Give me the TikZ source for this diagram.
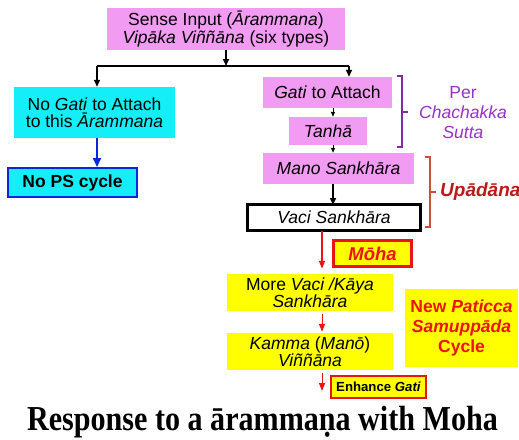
\documentclass[tikz,border=0pt]{standalone}
\usepackage{fontspec}
\setmainfont{Liberation Sans}
\newfontfamily\titlefont{Liberation Serif}
\usetikzlibrary{arrows.meta}
\definecolor{pinkb}{RGB}{242,155,242}
\definecolor{cyanb}{RGB}{20,238,248}
\definecolor{yellowb}{RGB}{255,255,0}
\definecolor{purp}{RGB}{150,50,200}
\definecolor{purpbr}{RGB}{130,40,170}
\definecolor{darkred}{RGB}{190,25,25}
\definecolor{redbr}{RGB}{200,80,60}
\definecolor{redar}{RGB}{235,20,20}
\definecolor{bluear}{RGB}{0,40,220}
\tikzset{
  box/.style={inner sep=0pt, align=center, font=\fontsize{17.5}{17.5}\selectfont},
  pinkbox/.style={box, fill=pinkb},
  cyanbox/.style={box, fill=cyanb},
  yelbox/.style={box, fill=yellowb},
  blk/.style={line width=1.5pt, -{Triangle[width=6pt,length=7pt]}},
  blks/.style={line width=1pt, -{Triangle[width=4pt,length=5pt]}},
  redarrow/.style={redar, line width=1.5pt, -{Triangle[width=6pt,length=8pt]}},
  bluearrow/.style={bluear, line width=2pt, -{Triangle[width=8pt,length=9pt]}},
}
\begin{document}
\begin{tikzpicture}[x=1pt,y=-1pt]
\useasboundingbox (0,0) rectangle (519,439);
% nodes
\node[pinkbox, minimum width=238pt, minimum height=42pt] (top) at (226,29)
  {Sense Input (\textit{Ārammana})\\\textit{Vipāka Viññāna} (six types)};
\node[cyanbox, minimum width=161pt, minimum height=51pt] (nogati) at (94.5,112.5)
  {No \textit{Gati} to Attach\\to this \textit{Ārammana}};
\node[cyanbox, draw=bluear, line width=2pt, minimum width=129pt, minimum height=29pt] (nops) at (72.5,182.5)
  {\textbf{No PS cycle}};
\node[pinkbox, minimum width=129pt, minimum height=31pt] (gati) at (327.5,92.5)
  {\textit{Gati} to Attach};
\node[pinkbox, minimum width=78pt, minimum height=28pt] (tanha) at (328,131)
  {\textit{Tanhā}};
\node[pinkbox, minimum width=151pt, minimum height=31pt] (mano) at (338.5,168.5)
  {\textit{Mano Sankhāra}};
\node[box, fill=white, draw=black, line width=3pt, minimum width=173pt, minimum height=26pt] (vaci) at (334,217.5)
  {\textit{Vaci Sankhāra}};
\node[yelbox, draw=redar, line width=3pt, minimum width=78pt, minimum height=26pt, text=redar, font=\fontsize{18.5}{19}\selectfont] (moha) at (372.5,253.5)
  {\textbf{\textit{Mōha}}};
\node[yelbox, minimum width=166pt, minimum height=37pt] (more) at (310,292.5)
  {More \textit{Vaci /Kāya}\\\textit{Sankhāra}};
\node[yelbox, minimum width=166pt, minimum height=37pt] (kamma) at (310,351.5)
  {\textit{Kamma} (\textit{Manō})\\\textit{Viññāna}};
\node[yelbox, draw=redar, line width=2pt, minimum width=95pt, minimum height=22pt, font=\fontsize{13.2}{14}\selectfont\bfseries] (enh) at (378.5,387)
  {Enhance \textit{Gati}};
\node[yelbox, minimum width=113pt, minimum height=78pt, text=redar, font=\fontsize{17.5}{20}\selectfont\bfseries] (newps) at (461.5,328)
  {New \textit{Paticca}\\\textit{Samuppāda}\\Cycle};
\node[text=purp, align=center, font=\fontsize{17.5}{20}\selectfont] (per) at (463,113)
  {Per\\\textit{Chachakka}\\\textit{Sutta}};
\node[text=darkred, anchor=west, inner sep=0pt, font=\fontsize{19}{20}\selectfont\bfseries\itshape] (upa) at (440,192) {Upādāna};
\node[inner sep=0pt, font=\titlefont\fontsize{35}{36}\selectfont\bfseries] (title) at (262.5,422)
  {\scalebox{0.86}[1]{Response to a ārammaṇa with Moha}};
% connectors
\coordinate (jl) at (97,66);
\coordinate (jr) at (349,66);
\coordinate (cx) at (333,0);
\coordinate (rx) at (322,0);
\coordinate (bx) at (97,0);
\draw[blk] (top.south) -- (top.south |- jl);
\draw[line width=1.5pt] (jl) -- (jr);
\draw[blk] (jl) -- (jl |- nogati.north);
\draw[blk] (jr) -- (jr |- gati.north);
\draw[bluearrow] (bx |- nogati.south) -- (bx |- nops.north);
\draw[blks] (cx |- gati.south) -- (cx |- tanha.north);
\draw[blks] (cx |- tanha.south) -- (cx |- mano.north);
\draw[blk] (cx |- mano.south) -- ([yshift=-2pt]cx |- vaci.north);
\draw[redarrow, shorten >=5pt] ([yshift=1.5pt]rx |- vaci.south) -- (rx |- more.north);
\draw[redarrow, line width=1pt, shorten <=3pt, shorten >=1pt] (rx |- more.south) -- (rx |- kamma.north);
\coordinate (endg) at (322,391);
\draw[redarrow, line width=1pt, shorten <=3pt] (rx |- kamma.south) -- (endg);
% brackets
\draw[purpbr, line width=1.2pt] (397,76) -- (402,76) -- (402,147) -- (397,147);
\draw[purpbr, line width=1.2pt] (402,112) -- (408,112);
\draw[redbr, line width=1.2pt] (425,157) -- (430,157) -- (430,227) -- (425,227);
\draw[redbr, line width=1.2pt] (430,192) -- (436,192);
\end{tikzpicture}
\end{document}
